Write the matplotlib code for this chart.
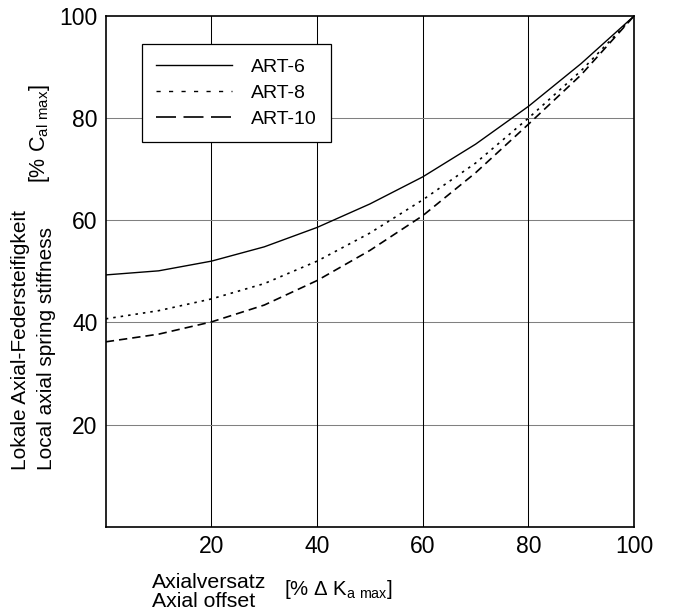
import matplotlib
matplotlib.use("Agg")
import matplotlib.pyplot as plt
from matplotlib.lines import Line2D

plt.rcParams['font.family'] = ['Liberation Sans', 'DejaVu Sans']
plt.rcParams['mathtext.fontset'] = 'custom'
plt.rcParams['mathtext.rm'] = 'Liberation Sans'

# offset in % of max axial offset
offset = [0, 10, 20, 30, 40, 50, 60, 70, 80, 90, 100]
# local axial spring stiffness in % of max
art6 = [49.3, 50.1, 52.0, 54.8, 58.6, 63.2, 68.5, 74.9, 82.3, 90.7, 100]
art8 = [40.7, 42.3, 44.6, 47.6, 52.0, 57.5, 64.0, 71.2, 80.0, 89.3, 100]
art10 = [36.2, 37.7, 40.1, 43.4, 48.2, 54.1, 60.9, 69.3, 78.8, 88.5, 100]
names = ["ART-6", "ART-8", "ART-10"]
ticks = [20, 40, 60, 80, 100]

fig = plt.figure(figsize=(6.74, 6.11), dpi=100)
ax = fig.add_axes([0.157, 0.138, 0.7837, 0.8358])

for t in [20, 40, 60, 80]:
    ax.axvline(t, color='black', lw=0.75, zorder=1)
    ax.axhline(t, color='#808080', lw=0.75, zorder=1)

ax.plot(offset, art6, color='black', lw=1.0, ls='-', zorder=3)
ax.plot(offset, art8, color='black', lw=1.2, ls=(0, (1.5, 3)), zorder=3)
ax.plot(offset, art10, color='black', lw=1.2, ls=(0, (5, 3)), zorder=3)

ax.set_xlim(0, 100)
ax.set_ylim(0, 100)
ax.set_xticks(ticks)
ax.set_yticks(ticks)
ax.tick_params(length=0, labelsize=16.5)
ax.tick_params(axis='x', pad=6)
ax.tick_params(axis='y', pad=6)
for s in ax.spines.values():
    s.set_linewidth(1.2)

handles = [
    Line2D([], [], color='black', lw=1.0, ls='-'),
    Line2D([], [], color='black', lw=1.0, ls=(0, (3, 6))),
    Line2D([], [], color='black', lw=1.2, ls=(0, (12, 4.5))),
]
leg = ax.legend(handles, names, loc='upper left', bbox_to_anchor=(0.068, 0.945),
                borderaxespad=0, fontsize=14, handlelength=3.9, handletextpad=0.95,
                labelspacing=0.42, borderpad=0.75, fancybox=False, framealpha=1,
                edgecolor='black')
leg.get_frame().set_linewidth(0.9)

# axis titles
fig.text(152 / 674, 1 - 588 / 611, "Axialversatz", fontsize=15.3, ha='left', va='baseline')
fig.text(152 / 674, 1 - 607 / 611, "Axial offset", fontsize=15.3, ha='left', va='baseline')
fig.text(284 / 674, 1 - 595 / 611, r"[% Δ $\mathrm{K_{a\ max}}$]", fontsize=14.7,
         ha='left', va='baseline')

fig.text(11 / 674, 1 - 470 / 611, "Lokale Axial-Federsteifigkeit", fontsize=15,
         rotation=90, ha='left', va='bottom')
fig.text(37 / 674, 1 - 470 / 611, "Local axial spring stiffness", fontsize=15,
         rotation=90, ha='left', va='bottom')
fig.text(27 / 674, 1 - 183 / 611, r"[% $\mathrm{C_{al\ max}}$]", fontsize=15.5,
         rotation=90, ha='left', va='bottom')

fig.savefig("out.png", dpi=100)
